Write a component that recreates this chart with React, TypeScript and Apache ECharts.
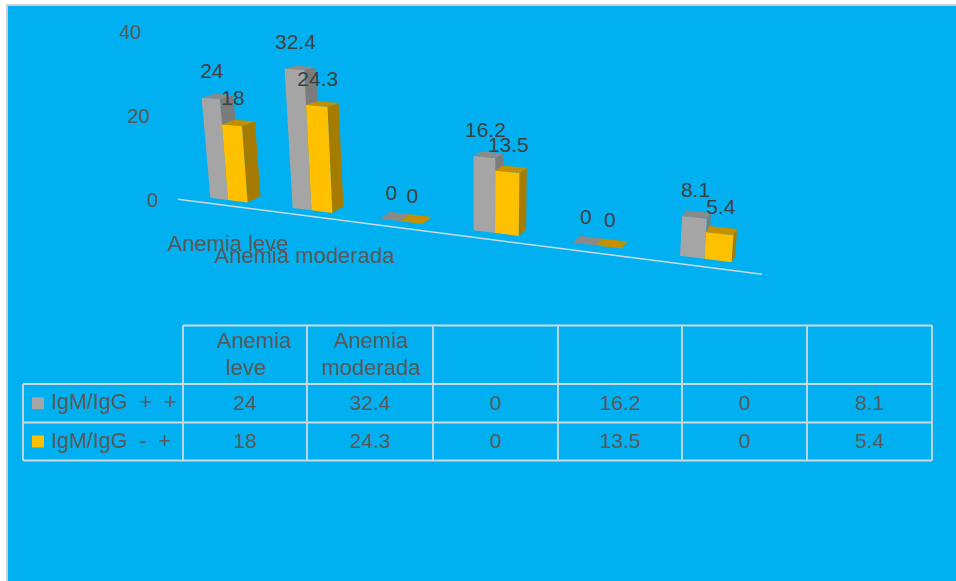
import React, { useEffect, useRef } from "react";
import * as echarts from "echarts";

const categories = ["Anemia leve", "Anemia moderada", "", "", "", ""];
const tableHeaderLines = [["Anemia", "leve"], ["Anemia", "moderada"], [], [], [], []];
const seriesNames = ["IgM/IgG  +  +", "IgM/IgG  -  +"];
const igmIggPosPos = [24, 32.4, 0, 16.2, 0, 8.1];
const igmIggNegPos = [18, 24.3, 0, 13.5, 0, 5.4];
const tickValues = [0, 20, 40];

const FONT = "'Liberation Sans', sans-serif";
const TEXT = "#595959";
const LABEL = "#404040";
const RULE = "#cdd9df";
const GRAY = { front: "#a5a5a5", top: "#8a8a8a", side: "#7b7b7b" };
const GOLD = { front: "#ffc000", top: "#c49000", side: "#a67c00" };

// Plain cartesian frame; the renderers below tilt it into the 3-D view.
const GRID = { left: 187.5, top: 32, width: 486, height: 168 };
const ORIGIN_X = GRID.left + GRID.width / 12;
const ORIGIN_Y = GRID.top + GRID.height;
const BAND = GRID.width / 6;
const CONVERGE = 0.03;
const FLOOR_SLOPE = 0.1235;

// Perspective projection of a point of the flat grid onto the tilted floor.
function project(px: number, py: number) {
  const c = (px - ORIGIN_X) / BAND;
  const k = 1 / (1 - CONVERGE * c);
  const x = ORIGIN_X + (px - ORIGIN_X) * k;
  const base = ORIGIN_Y + FLOOR_SLOPE * (x - ORIGIN_X);
  const h = (ORIGIN_Y - py) * k;
  const lean = -0.08 + 0.028 * c;
  return [x + lean * h, base - h, c, h];
}

function poly(points: number[][], fill: string) {
  return { type: "polygon", shape: { points }, style: { fill, stroke: "none" } };
}

function barRenderer(from: number, to: number, colors: typeof GRAY) {
  return (_: any, api: any) => {
    const v = api.value(1);
    const top = api.coord([api.value(0), v]);
    const foot = api.coord([api.value(0), 0]);
    const band = api.size([1, 0])[0];
    const xa = top[0] + from * band;
    const xb = top[0] + to * band;
    const tl = project(xa, top[1]);
    const tr = project(xb, top[1]);
    const bl = project(xa, foot[1]);
    const br = project(xb, foot[1]);
    const depth = 13.4 - 1.85 * tr[2];
    const topRise = -7 + 0.03 * tr[3];
    const backTL = [tl[0] + depth, tl[1] + topRise];
    const backTR = [tr[0] + depth, tr[1] + topRise];
    const backBR = [br[0] + depth, br[1] - 6.5];
    return {
      type: "group",
      children: [
        poly([tr, backTR, backBR, br] as number[][], colors.side),
        poly([tl, backTL, backTR, tr] as number[][], colors.top),
        poly([tl, tr, br, bl] as number[][], colors.front),
        {
          type: "text",
          z2: 20,
          x: (tl[0] + tr[0]) / 2 + 1,
          y: (tl[1] + tr[1]) / 2 - 27.5,
          style: { text: String(v), fill: LABEL, fontSize: 21, fontFamily: FONT, align: "center", verticalAlign: "middle" },
        },
      ],
    };
  };
}

function tickRenderer(_: any, api: any) {
  const v = api.value(1);
  const y = api.coord([0, v])[1];
  return {
    type: "text",
    x: 158 - 0.1 * (ORIGIN_Y - y),
    y,
    style: { text: String(v), fill: TEXT, fontSize: 20, fontFamily: FONT, align: "right", verticalAlign: "middle" },
  };
}

function categoryRenderer(params: any, api: any) {
  const i = api.value(0);
  const c = api.coord([i, 0]);
  const p = project(c[0], c[1]);
  return {
    type: "text",
    x: p[0] - 7 * i,
    y: p[1] + 43 + 2.5 * i,
    style: { text: categories[params.dataIndex], fill: TEXT, fontSize: 22, fontFamily: FONT, align: "center", verticalAlign: "middle" },
  };
}

function floorRenderer(_: any, api: any) {
  const c = api.coord([0, 0]);
  const band = api.size([1, 0])[0];
  const a = project(c[0] - 0.629 * band, c[1]);
  const b = project(c[0] + 5.505 * band, c[1]);
  return {
    type: "line",
    shape: { x1: a[0], y1: a[1] + 5.5, x2: b[0], y2: b[1] + 8.3 },
    style: { stroke: RULE, lineWidth: 1.5 },
  };
}

// Data table under the plot, with the legend keys in its first column.
const colX = [183, 307, 433, 558, 682, 807, 932];
const rowY = [325.5, 384, 422.5, 460.5];
const TABLE_LEFT = 23;

function cellText(text: string, x: number, y: number, align = "center", fontSize = 21) {
  return {
    type: "text",
    x,
    y,
    silent: true,
    style: { text, fill: TEXT, fontSize, fontFamily: FONT, align, verticalAlign: "middle" },
  };
}

function rule(x1: number, y1: number, x2: number, y2: number) {
  return { type: "line", shape: { x1, y1, x2, y2 }, style: { stroke: RULE, lineWidth: 1.8 } };
}

function tableGraphics() {
  const els: any[] = [
    { type: "rect", z: -5, shape: { x: 7, y: 5, width: 960, height: 590 }, style: { fill: "#00b0f0", stroke: "#c9cfd2", lineWidth: 2 } },
  ];
  rowY.forEach((y, r) => els.push(rule(r < 1 ? colX[0] : TABLE_LEFT, y, colX[6], y)));
  colX.forEach((x) => els.push(rule(x, rowY[0], x, rowY[3])));
  els.push(rule(TABLE_LEFT, rowY[1], TABLE_LEFT, rowY[3]));

  tableHeaderLines.forEach((lines, i) => {
    const cx = (colX[i] + colX[i + 1]) / 2;
    lines.forEach((line, l) => {
      const shift = line === "Anemia" && i === 0 ? 9 : 1;
      els.push(cellText(line, cx + shift, 340 + l * 27, "center", 22));
    });
  });
  [igmIggPosPos, igmIggNegPos].forEach((values, r) => {
    const cy = (rowY[r + 1] + rowY[r + 2]) / 2;
    els.push({
      type: "rect",
      shape: { x: 32, y: cy - 6, width: 12, height: 12 },
      style: { fill: r === 0 ? GRAY.front : GOLD.front },
    });
    els.push(cellText(seriesNames[r], 51, cy - 1, "left", 21.5));
    values.forEach((v, i) => els.push(cellText(String(v), (colX[i] + colX[i + 1]) / 2, cy - 1)));
  });
  return els;
}

export default function App() {
  const ref = useRef<HTMLDivElement>(null);

  useEffect(() => {
    document.body.style.margin = "0";
    const chart = echarts.init(ref.current!, undefined, { renderer: "svg" });
    const toPoints = (values: number[]) => values.map((v, i) => [i, v]);
    chart.setOption({
      animation: false,
      backgroundColor: "#ffffff",
      grid: GRID,
      xAxis: { type: "category", data: categories, show: false },
      yAxis: { type: "value", min: 0, max: 40, interval: 20, show: false },
      graphic: { elements: tableGraphics() },
      series: [
        { type: "custom", name: "floor", silent: true, clip: false, renderItem: floorRenderer, data: [[0, 0]] },
        { type: "custom", name: "ticks", silent: true, clip: false, renderItem: tickRenderer, data: tickValues.map((v) => [0, v]) },
        {
          type: "custom",
          name: "categories",
          silent: true,
          clip: false,
          renderItem: categoryRenderer,
          data: categories.map((_, i) => [i, 0]),
        },
        { type: "custom", name: seriesNames[0], clip: false, renderItem: barRenderer(-0.22, 0, GRAY), data: toPoints(igmIggPosPos) },
        { type: "custom", name: seriesNames[1], clip: false, renderItem: barRenderer(0, 0.24, GOLD), data: toPoints(igmIggNegPos) },
      ],
    });
    return () => chart.dispose();
  }, []);

  return <div ref={ref} style={{ position: "absolute", left: 0, top: 0, width: 956, height: 581 }} />;
}
